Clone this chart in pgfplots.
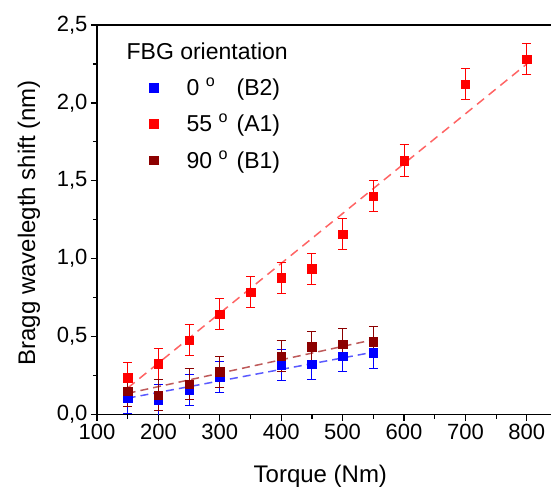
\documentclass[border=0pt]{standalone}
\usepackage{fontspec}
\setmainfont{Liberation Sans}
\usepackage{pgfplots}
\pgfplotsset{compat=1.18}

\definecolor{cblue}{RGB}{0,0,255}
\definecolor{cred}{RGB}{255,0,0}
\definecolor{cdark}{RGB}{140,0,0}
\definecolor{fblue}{RGB}{90,90,255}
\definecolor{fred}{RGB}{255,100,100}
\definecolor{fdark}{RGB}{190,90,90}

\begin{document}
\begin{tikzpicture}[font=\fontsize{22}{26}\selectfont]
\begin{axis}[
  scale only axis,
  width=460.5pt, height=389.5pt,
  xmin=100, xmax=850, ymin=0, ymax=2.5,
  xtick={100,200,...,800},
  minor x tick num=1,
  ytick={0,0.5,...,2.5},
  minor y tick num=1,
  xtick pos=bottom, ytick pos=left,
  tick align=outside,
  major tick length=6pt, minor tick length=4pt,
  axis line style={line width=1.2pt},
  tick style={black, line width=1.2pt},
  /pgf/number format/assume math mode=true,
  yticklabel style={/pgf/number format/.cd, use comma, fixed, fixed zerofill, precision=1},
  xlabel={Torque (Nm)},
  ylabel={Bragg wavelegth shift (nm)},
  xlabel style={at={(axis description cs:0.485,-0.158)}, anchor=center, font=\fontsize{24}{28}\selectfont},
  ylabel style={at={(axis description cs:-0.148,0.492)}, anchor=center, font=\fontsize{24}{28}\selectfont},
  legend style={draw=none, fill=none, at={(axis description cs:0.09,0.965)}, anchor=north west,
    row sep=13pt, font=\fontsize{23}{27}\selectfont},
  legend cell align=left,
  legend image code/.code={
    \draw[#1] plot coordinates {(12pt,0pt)};
    \pgfpathmoveto{\pgfpoint{0pt}{0pt}}\pgfpathlineto{\pgfpoint{43pt}{0pt}}\pgfusepath{}},
  error bars/y dir=both, error bars/y explicit,
  error bars/error mark options={rotate=90, mark size=4.5pt, line width=1pt},
  error bars/error bar style={line width=1pt},
]
% linear fits
\addplot[fblue, line width=1.5pt, dash pattern=on 8pt off 5pt, forget plot] coordinates {(150,0.105) (550,0.40)};
\addplot[fdark, line width=1.5pt, dash pattern=on 8pt off 5pt, forget plot] coordinates {(150,0.136) (550,0.48)};
\addplot[fred, line width=1.5pt, dash pattern=on 9pt off 6pt, forget plot] coordinates {(150,0.17) (800,2.25)};

\addlegendimage{empty legend}
\addlegendentry{\hspace{-60pt}FBG orientation\rule[-5pt]{0pt}{1pt}}

\addplot[cblue, only marks, mark=square*, mark size=4.25pt] coordinates {
  (150,0.106) +- (0,0.1)
  (200,0.093) +- (0,0.1)
  (250,0.157) +- (0,0.1)
  (300,0.240) +- (0,0.1)
  (400,0.318) +- (0,0.1)
  (450,0.324) +- (0,0.1)
  (500,0.375) +- (0,0.1)
  (550,0.397) +- (0,0.1)
};
\addlegendentry{\makebox[50pt][l]{0 \textsuperscript{o}}(B2)}

\addplot[cred, only marks, mark=square*, mark size=4.25pt] coordinates {
  (150,0.236) +- (0,0.1)
  (200,0.326) +- (0,0.1)
  (250,0.478) +- (0,0.1)
  (300,0.645) +- (0,0.1)
  (350,0.784) +- (0,0.1)
  (400,0.878) +- (0,0.1)
  (450,0.936) +- (0,0.1)
  (500,1.157) +- (0,0.1)
  (550,1.400) +- (0,0.1)
  (600,1.630) +- (0,0.1)
  (700,2.120) +- (0,0.1)
  (800,2.280) +- (0,0.1)
};
\addlegendentry{\makebox[50pt][l]{55 \textsuperscript{o}}(A1)}

\addplot[cdark, only marks, mark=square*, mark size=4.25pt] coordinates {
  (150,0.151) +- (0,0.1)
  (200,0.125) +- (0,0.1)
  (250,0.196) +- (0,0.1)
  (300,0.275) +- (0,0.1)
  (400,0.375) +- (0,0.1)
  (450,0.435) +- (0,0.1)
  (500,0.450) +- (0,0.1)
  (550,0.467) +- (0,0.1)
};
\addlegendentry{\makebox[50pt][l]{90 \textsuperscript{o}}(B1)}

\coordinate (bl) at (rel axis cs:0,0);
\coordinate (tr) at (rel axis cs:1,1);
\end{axis}
\pgfresetboundingbox
\path[use as bounding box] ([xshift=-97pt,yshift=-73.5pt]bl) rectangle ([xshift=-6.5pt,yshift=25pt]tr);
\end{tikzpicture}
\end{document}
